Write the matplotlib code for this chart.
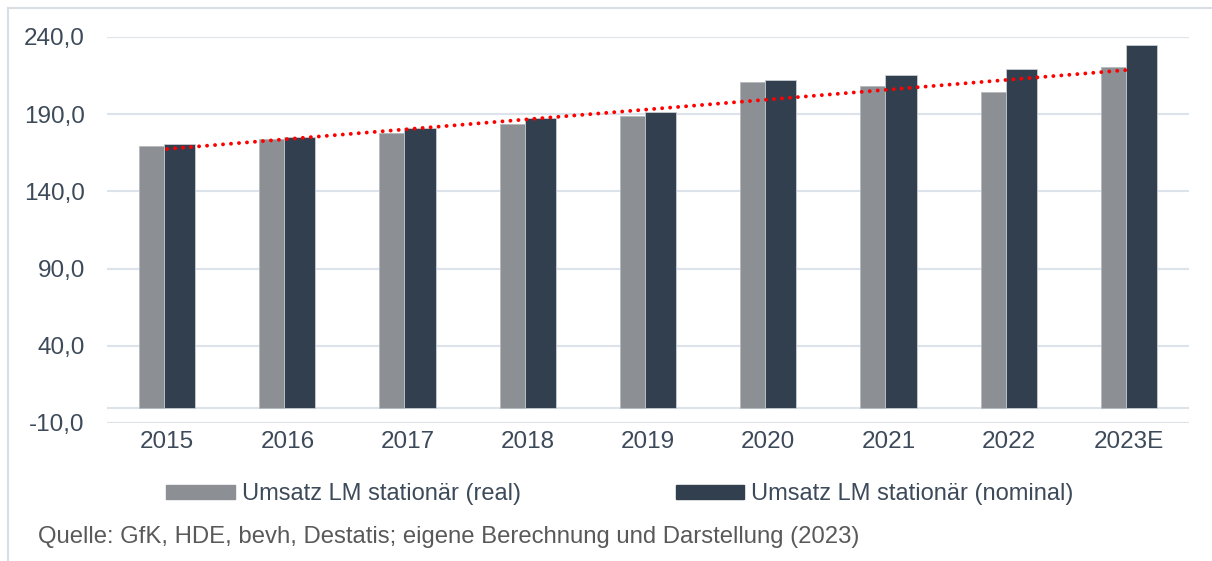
import numpy as np
import matplotlib
matplotlib.use("Agg")
import matplotlib.pyplot as plt
from matplotlib.patches import Patch
from matplotlib.lines import Line2D

plt.rcParams['font.family'] = ['Liberation Sans', 'DejaVu Sans']

# data
years = ["2015", "2016", "2017", "2018", "2019", "2020", "2021", "2022", "2023E"]
real = [169.4, 174.0, 177.8, 183.6, 188.9, 210.9, 208.3, 204.4, 220.6]
nominal = [170.7, 175.2, 181.0, 187.5, 191.5, 212.2, 215.4, 219.3, 235.0]
yticks = [-10, 40, 90, 140, 190, 240]

c_real = "#8c9094"
c_nom = "#323f4e"
c_text = "#3d4a5a"
c_grid = "#dde3ea"

W, H = 1212, 561
fig = plt.figure(figsize=(W / 100, H / 100), dpi=100)
ax = fig.add_axes([107 / W, (H - 423) / H, (1189 - 107) / W, (423 - 37) / H])

x = np.arange(len(years))
bw = 0.26
off = 0.104
ax.bar(x - off, real, bw, color=c_real, edgecolor="#b5b9bd", linewidth=0.6, zorder=2)
ax.bar(x + off, nominal, bw, color=c_nom, edgecolor="#c9ced4", linewidth=0.6, zorder=3)

# linear trend of the real series
k, d = np.polyfit(x, real, 1)
ax.plot(x, k * x + d, color="#ff0000", linestyle=(0, (0.01, 2.05)), linewidth=2.8,
        dash_capstyle="round", zorder=4)

ax.set_xlim(-0.5, len(years) - 0.5)
ax.set_ylim(-10, 240)
ax.set_yticks(yticks)
ax.set_yticklabels([f"{v:.1f}".replace(".", ",") for v in yticks])
ax.set_xticks(x)
ax.set_xticklabels(years)
ax.tick_params(axis="both", length=0, labelsize=17.5, colors=c_text)
ax.tick_params(axis="y", pad=16)
ax.tick_params(axis="x", pad=6)
for s in ax.spines.values():
    s.set_visible(False)
ax.grid(axis="y", color=c_grid, linewidth=1.5, zorder=0)
ax.axhline(0, color=c_grid, linewidth=1.5, zorder=1)

handles = [Patch(color=c_real), Patch(color=c_nom)]
fig.legend(handles, ["Umsatz LM stationär (real)", "Umsatz LM stationär (nominal)"],
           loc="center", bbox_to_anchor=(620 / W, 1 - 494 / H), ncol=2,
           frameon=False, fontsize=17, labelcolor=c_text, handlelength=2.9,
           handleheight=0.55, handletextpad=0.3, columnspacing=6.55)

fig.text(38 / W, 1 - 537 / H,
         "Quelle: GfK, HDE, bevh, Destatis; eigene Berechnung und Darstellung (2023)",
         fontsize=17.2, color="#595959", va="center", ha="left")

# outer frame (partly cropped in the reference)
fig.add_artist(Line2D([8 / W, 1], [1 - 8 / H, 1 - 8 / H], color="#d9dee5", linewidth=1.5))
fig.add_artist(Line2D([8 / W, 8 / W], [0, 1 - 8 / H], color="#d9dee5", linewidth=1.5))

fig.savefig("out.png", dpi=100, facecolor="white")
